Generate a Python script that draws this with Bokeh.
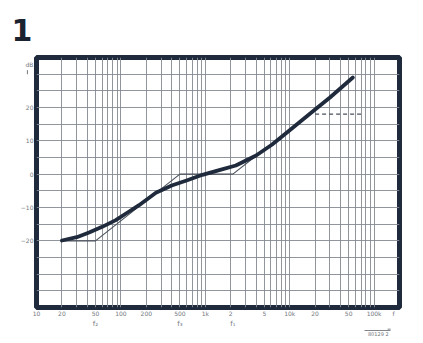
from bokeh.plotting import figure
from bokeh.models import FixedTicker, Arrow, NormalHead, Range1d, LogAxis
from bokeh.embed import file_html
from bokeh.resources import INLINE

# ---- data ----
freq_curve = [20, 30, 42, 60, 87, 120, 164, 260, 400, 600, 925, 1500, 2300, 4000, 6200, 10000, 20000, 30000, 56000]
db_curve = [-19.9, -18.9, -17.5, -15.8, -13.8, -11.5, -9.3, -5.6, -3.4, -1.9, -0.2, 1.3, 2.6, 5.6, 8.9, 13.2, 19.4, 23.0, 29.0]

freq_asym = [20, 50, 500, 2120, 4500]
db_asym = [-20, -20, 0, 0, 6.5]

freq_mark = [20000, 70000]
db_mark = [18, 18]

x_tick_values = [10, 20, 50, 100, 200, 500, 1000, 2000, 5000, 10000, 20000, 50000, 100000, 170000]
x_tick_labels = ["10", "20", "50", "100", "200", "500", "1k", "2", "5", "10k", "20", "50", "100k", "f"]
y_tick_values = [-20, -10, 0, 10, 20, 33]
y_tick_labels = ["\u221220", "\u221210", "0", "10", "20", "dB"]

corner_freqs = [50, 500, 2120]
corner_names = ["f\u2082", "f\u2083", "f\u2081"]

code_pos = [112000]
code_text = ["80129 2"]
freq_arrow = (78000, 155000)

x_grid = [k * 10 ** d for d in range(1, 5) for k in range(1, 10)] + [100000]
y_grid = list(range(-35, 35, 5))

INK = "#1f2a3c"
GRID = "#858a92"
TXT = "#73777e"

p = figure(width=423, height=343, x_axis_type="log",
           x_range=Range1d(10, 200000), y_range=Range1d(-40, 35),
           output_backend="svg", toolbar_location=None,
           min_border_left=36, min_border_right=24,
           min_border_top=55, min_border_bottom=36)
p.background_fill_color = "white"
p.border_fill_color = "white"
p.outline_line_color = INK
p.outline_line_width = 5

p.title.text = "1"
p.title.text_font = "DejaVu Sans"
p.title.text_font_style = "bold"
p.title.text_font_size = "30px"
p.title.text_color = "#1b2230"
p.title.align = "left"
p.title.offset = -25
p.title.standoff = 33

p.xgrid.ticker = FixedTicker(ticks=x_grid)
p.ygrid.ticker = FixedTicker(ticks=y_grid)
for g in (p.xgrid, p.ygrid):
    g.grid_line_color = GRID
    g.grid_line_width = 0.9

p.xaxis.ticker = FixedTicker(ticks=x_tick_values)
p.xaxis.major_label_overrides = {v: t for v, t in zip(x_tick_values, x_tick_labels)}
p.yaxis.ticker = FixedTicker(ticks=y_tick_values)
p.yaxis.major_label_overrides = {v: t for v, t in zip(y_tick_values, y_tick_labels)}

ax_f = LogAxis(ticker=FixedTicker(ticks=corner_freqs),
               major_label_overrides={v: t for v, t in zip(corner_freqs, corner_names)})
p.add_layout(ax_f, "below")
# last axis: its line (limited by bounds) is the shaft of the frequency arrow
ax_c = LogAxis(ticker=FixedTicker(ticks=code_pos), bounds=freq_arrow,
               major_label_overrides={v: t for v, t in zip(code_pos, code_text)})
p.add_layout(ax_c, "below")

for ax in (p.xaxis[0], p.yaxis[0], ax_f, ax_c):
    ax.axis_line_color = None
    ax.major_tick_line_color = None
    ax.minor_tick_line_color = None
    ax.major_tick_out = 0
    ax.major_tick_in = 0
    ax.minor_tick_out = 0
    ax.major_label_text_font = "DejaVu Sans"
    ax.major_label_text_font_size = "6px"
    ax.major_label_text_color = TXT
    ax.major_label_standoff = 2
p.yaxis[0].major_label_standoff = 3
ax_f.major_label_text_font_size = "7px"
ax_f.major_label_standoff = 0
ax_c.major_label_text_font_size = "5px"
ax_c.major_label_standoff = 0
ax_c.axis_line_color = TXT
ax_c.axis_line_width = 0.9

# asymptotes (thin)
p.line(freq_asym, db_asym, line_color="#4a515c", line_width=1.1)
# dashed marker
p.line(freq_mark, db_mark, line_color="#4a515c", line_width=1.2, line_dash="4 3")
# main curve (thick)
p.line(freq_curve, db_curve, line_color=INK, line_width=3.8, line_join="round", line_cap="round")

# dB arrow head
p.add_layout(Arrow(x_start=7.8, y_start=21, x_end=7.8, y_end=31.2,
                   line_color=TXT, line_width=1,
                   end=NormalHead(size=4, line_color=TXT, fill_color=TXT, line_width=0.8)))
# frequency arrow head, at the end of the shaft
p.add_layout(Arrow(x_start=140000, y_start=-46.5, x_end=157000, y_end=-46.5,
                   line_color=TXT, line_width=0.9,
                   end=NormalHead(size=3, line_color=TXT, fill_color=TXT, line_width=0.8)))

open("out.html", "w").write(file_html(p, INLINE))
